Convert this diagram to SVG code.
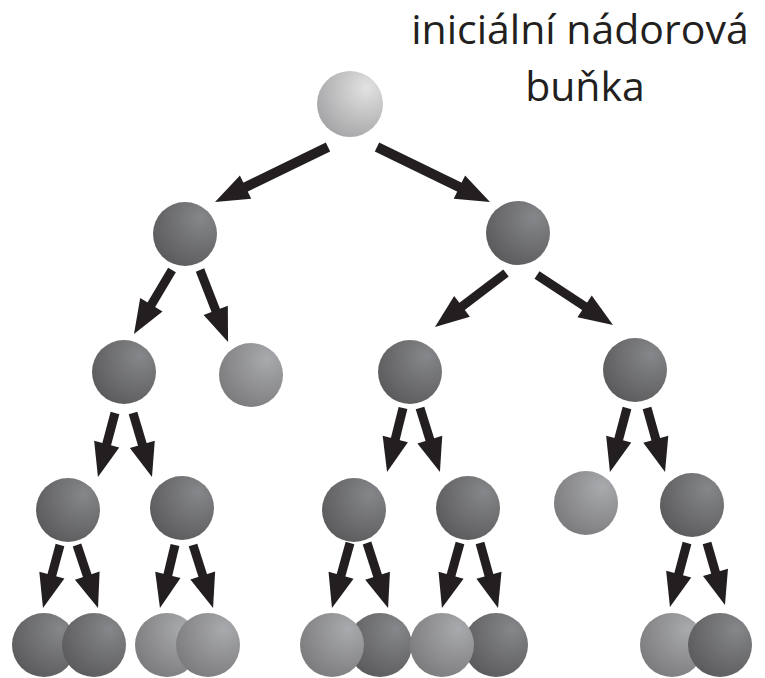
<svg xmlns="http://www.w3.org/2000/svg" width="765" height="678" viewBox="0 0 765 678">
<style>
.lbl{font-family:"Open Sans","Noto Sans",sans-serif;font-size:41px;fill:#231f20;text-anchor:middle}
.dark{fill:url(#gDark)}
.light{fill:url(#gLight)}
.top{fill:url(#gTop)}
.arr{stroke:#231f20;stroke-width:9;fill:none;marker-end:url(#head)}
.arrT{stroke:#231f20;stroke-width:10;fill:none;marker-end:url(#head)}
</style>
<defs>
<radialGradient id="gDark" cx="0.72" cy="0.28" r="0.95" fx="0.75" fy="0.25">
<stop offset="0" stop-color="#86878a"/>
<stop offset="1" stop-color="#545456"/>
</radialGradient>
<radialGradient id="gLight" cx="0.72" cy="0.28" r="0.95" fx="0.75" fy="0.25">
<stop offset="0" stop-color="#a9aaad"/>
<stop offset="1" stop-color="#747476"/>
</radialGradient>
<radialGradient id="gTop" cx="0.72" cy="0.28" r="0.95" fx="0.75" fy="0.25">
<stop offset="0" stop-color="#e2e2e3"/>
<stop offset="1" stop-color="#9b9b9d"/>
</radialGradient>
<marker id="head" markerUnits="userSpaceOnUse" markerWidth="40" markerHeight="30" viewBox="0 -15 40 30" refX="14" refY="0" orient="auto" overflow="visible">
<path d="M0,-13 L34,0 L0,13 z" fill="#231f20"/>
</marker>
</defs>
<g id="label">
<text class="lbl" x="580" y="44">iniciální nádorová</text>
<text class="lbl" x="585" y="101">buňka</text>
</g>
<g id="connectors">
<line class="arrT" x1="328" y1="147" x2="233" y2="193.2"/>
<line class="arrT" x1="377" y1="147" x2="472" y2="193.2"/>
<line class="arr" x1="172" y1="270" x2="144.2" y2="316.8"/>
<line class="arr" x1="200" y1="270" x2="220.8" y2="323.4"/>
<line class="arr" x1="506" y1="273" x2="450.9" y2="314.9"/>
<line class="arr" x1="537" y1="275" x2="596.3" y2="314"/>
<line class="arr" x1="115" y1="413" x2="103.1" y2="457.7"/>
<line class="arr" x1="133" y1="413" x2="146.3" y2="457.8"/>
<line class="arr" x1="403" y1="408" x2="391.9" y2="452.6"/>
<line class="arr" x1="420" y1="408" x2="434" y2="452.9"/>
<line class="arr" x1="627" y1="408" x2="615.1" y2="452.7"/>
<line class="arr" x1="647" y1="408" x2="659.6" y2="452.7"/>
<line class="arr" x1="60" y1="545" x2="48.2" y2="588.7"/>
<line class="arr" x1="77" y1="545" x2="91.7" y2="589"/>
<line class="arr" x1="175" y1="545" x2="164.6" y2="588.5"/>
<line class="arr" x1="193" y1="545" x2="207" y2="588.9"/>
<line class="arr" x1="350" y1="543" x2="337.3" y2="588.7"/>
<line class="arr" x1="367" y1="543" x2="381.9" y2="589"/>
<line class="arr" x1="460" y1="543" x2="447.3" y2="588.7"/>
<line class="arr" x1="480" y1="543" x2="492.7" y2="588.7"/>
<line class="arr" x1="687" y1="543" x2="675.1" y2="587.7"/>
<line class="arr" x1="707" y1="543" x2="719.4" y2="585.8"/>
</g>
<g id="cell-root"><circle class="top" cx="350" cy="104" r="33"/></g>
<g id="cell-L"><circle class="dark" cx="185" cy="234" r="32"/></g>
<g id="cell-R"><circle class="dark" cx="518" cy="233" r="32"/></g>
<g id="cell-LL"><circle class="dark" cx="124" cy="372" r="32"/></g>
<g id="cell-LR"><circle class="light" cx="251" cy="375" r="32"/></g>
<g id="cell-RL"><circle class="dark" cx="410" cy="372" r="32"/></g>
<g id="cell-RR"><circle class="dark" cx="635" cy="370" r="32"/></g>
<g id="cell-LLL"><circle class="dark" cx="68" cy="510" r="32"/></g>
<g id="cell-LLR"><circle class="dark" cx="182" cy="508" r="32"/></g>
<g id="cell-RLL"><circle class="dark" cx="354" cy="510" r="32"/></g>
<g id="cell-RLR"><circle class="dark" cx="468" cy="508" r="32"/></g>
<g id="cell-RRL"><circle class="light" cx="586" cy="503" r="32"/></g>
<g id="cell-RRR"><circle class="dark" cx="692" cy="505" r="32"/></g>
<g id="cell-b1"><circle class="dark" cx="44" cy="645" r="32"/></g>
<g id="cell-b2"><circle class="dark" cx="94" cy="645" r="32"/></g>
<g id="cell-b3"><circle class="light" cx="167" cy="645" r="32"/></g>
<g id="cell-b4"><circle class="light" cx="208" cy="645" r="32"/></g>
<g id="cell-b6"><circle class="dark" cx="380" cy="645" r="32"/></g>
<g id="cell-b5"><circle class="light" cx="332" cy="645" r="32"/></g>
<g id="cell-b8"><circle class="dark" cx="496" cy="645" r="32"/></g>
<g id="cell-b7"><circle class="light" cx="442" cy="645" r="32"/></g>
<g id="cell-b9"><circle class="light" cx="672" cy="645" r="32"/></g>
<g id="cell-b10"><circle class="dark" cx="720" cy="645" r="32"/></g>
</svg>
